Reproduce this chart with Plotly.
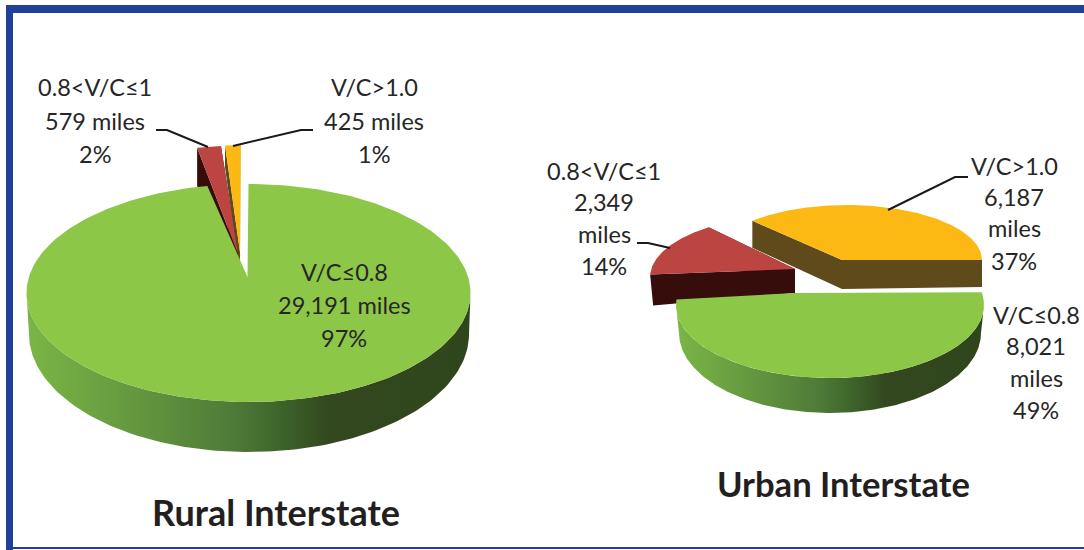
import numpy as np
import plotly.graph_objects as go

categories = ["V/C≤0.8", "0.8<V/C≤1", "V/C>1.0"]
rural_miles = [29191, 579, 425]
urban_miles = [8021, 2349, 6187]
rural_percent = ["97%", "2%", "1%"]
urban_percent = ["49%", "14%", "37%"]

GREEN, RED, YELLOW = "#8dc747", "#bd4541", "#fcb913"
RED_WALL, YELLOW_WALL = "#370d0b", "#5f4a1c"
GREEN_WALL = [[0, "#7ab646"], [0.2, "#689d40"], [0.47, "#4e7a38"], [0.58, "#3c6229"], [0.68, "#33481f"], [1, "#2f451c"]]
TEXT = "#262626"
FONT = "Lato"
SIZE = 23.5

# Projected geometry of each exploded slice (pixels of the 1084x550 picture).
rural_geo = {
    "start": 0,
    "slices": [
        dict(c=(248.5, 293), rx=222, ry=109, apex=(247.5, 277), off=0, stretch=1.0037, depth=0,
             low=dict(c=(249, 334), rx=220, ry=118), color=GREEN),
        dict(c=(238.6, 254.5), rx=200, ry=109, apex=(238, 254), off=0, depth=38, adepth=38, color=RED, wall=RED_WALL),
        dict(c=(241, 254), rx=181, ry=109, apex=(240, 252), off=0, depth=22, adepth=22, color=YELLOW, wall=YELLOW_WALL),
    ],
}
urban_geo = {
    "start": 86,
    "slices": [
        dict(c=(830, 305), rx=154, ry=73, apex=(795, 293), off=-6, stretch=1.1137, depth=0,
             low=dict(c=(830, 333), rx=151, ry=80), color=GREEN),
        dict(c=(795, 277), rx=145, ry=62, apex=(795, 269), off=12, depth=31, adepth=24, wx=3, color=RED, wall=RED_WALL),
        dict(c=(847, 260), rx=135, ry=55, apex=(842, 260), off=4, depth=27, adepth=29, color=YELLOW, wall=YELLOW_WALL),
    ],
}


def rim(c, rx, ry, t):
    t = np.radians(t)
    return c[0] + rx * np.sin(t), c[1] - ry * np.cos(t)


def poly(fig, xs, ys, color=None, gradient=None):
    kw = dict(fillgradient=dict(type="horizontal", colorscale=gradient)) if gradient else dict(fillcolor=color)
    fig.add_trace(go.Scatter(x=list(xs), y=list(ys), mode="lines", fill="toself",
                             line=dict(width=0), hoverinfo="skip", showlegend=False, **kw))


def pie(fig, values, geo):
    total = sum(values)
    spans = [v / total * 360 for v in values]
    starts = [geo["start"] + sum(spans[:i]) for i in range(len(spans))]
    for i in (2, 1, 0):  # back slices first, the green slice lies in front
        g = geo["slices"][i]
        t = starts[i] + g["off"] + np.linspace(0, spans[i] * g.get("stretch", 1), 240)
        x, y = rim(g["c"], g["rx"], g["ry"], t)
        ax, ay = g["apex"]
        if g["depth"]:
            d, ad, wx = g["depth"], g["adepth"], g.get("wx", 0)
            for px, py in ((x[-1], y[-1]), (x[0], y[0])):
                poly(fig, [px, ax, ax, px + wx], [py, ay, ay + ad, py + d], g["wall"])
        if "low" in g:
            f = t[(t >= 90) & (t <= 270)]
            f = np.concatenate([[max(90, t[0])], f, [min(270, t[-1])]])
            ux, uy = rim(g["c"], g["rx"], g["ry"], f)
            l = g["low"]
            lx, ly = rim(l["c"], l["rx"], l["ry"], f[::-1])
            poly(fig, np.r_[ux, lx], np.r_[uy, ly], gradient=GREEN_WALL)
        poly(fig, np.r_[ax, x], np.r_[ay, y], g["color"])


fig = go.Figure()
pie(fig, rural_miles, rural_geo)
pie(fig, urban_miles, urban_geo)

leaders = [
    [(156, 130), (167, 130), (208, 147)],
    [(313, 130), (301, 130), (233, 146)],
    [(968, 177), (955, 177), (888, 210)],
    [(637, 243), (648, 243), (670, 248)],
]
for pts in leaders:
    fig.add_trace(go.Scatter(x=[p[0] for p in pts], y=[p[1] for p in pts], mode="lines",
                             line=dict(color="#1a1a1a", width=2), hoverinfo="skip", showlegend=False))


def fmt(v):
    return f"{v:,}"


labels = [
    (95, [87, 121, 154], [categories[1], fmt(rural_miles[1]) + " miles", rural_percent[1]]),
    (374, [87, 121, 154], [categories[2], fmt(rural_miles[2]) + " miles", rural_percent[2]]),
    (344, [272, 305, 338], [categories[0], fmt(rural_miles[0]) + " miles", rural_percent[0]]),
    (604, [171, 202, 234, 266], [categories[1], fmt(urban_miles[1]), "miles", urban_percent[1]]),
    (1014, [166, 197, 228, 261], [categories[2], fmt(urban_miles[2]), "miles", urban_percent[2]]),
    (1036, [315, 346, 378, 410], [categories[0], fmt(urban_miles[0]), "miles", urban_percent[0]]),
]
anns = []
for x, ys, texts in labels:
    for y, s in zip(ys, texts):
        anns.append(dict(x=x, y=y, text=s, showarrow=False, xanchor="center", yanchor="middle",
                         font=dict(family=FONT, size=SIZE, color=TEXT)))
for x, y, s, size in [(276, 512, "Rural Interstate", 36), (843, 483, "Urban Interstate", 34.6)]:
    anns.append(dict(x=x, y=y, text=f"<b>{s}</b>", showarrow=False, xanchor="center", yanchor="middle",
                     font=dict(family=FONT, size=size, color="#231f20")))

BLUE = "#21409a"
shapes = [
    dict(type="rect", x0=6, x1=13, y0=5, y1=550, fillcolor=BLUE, line_width=0, layer="above"),
    dict(type="rect", x0=6, x1=1084, y0=5, y1=13, fillcolor=BLUE, line_width=0, layer="above"),
    dict(type="rect", x0=6, x1=1084, y0=547, y1=549, fillcolor=BLUE, line_width=0, layer="above"),
]

fig.update_layout(
    width=1084, height=550, margin=dict(l=0, r=0, t=0, b=0),
    paper_bgcolor="white", plot_bgcolor="white", showlegend=False,
    xaxis=dict(range=[0, 1084], visible=False, fixedrange=True),
    yaxis=dict(range=[550, 0], visible=False, fixedrange=True),
    annotations=anns, shapes=shapes,
)
fig.write_html("out.html", config=dict(displayModeBar=False),
               post_script="document.body.style.margin='0';document.body.style.overflow='hidden';")
